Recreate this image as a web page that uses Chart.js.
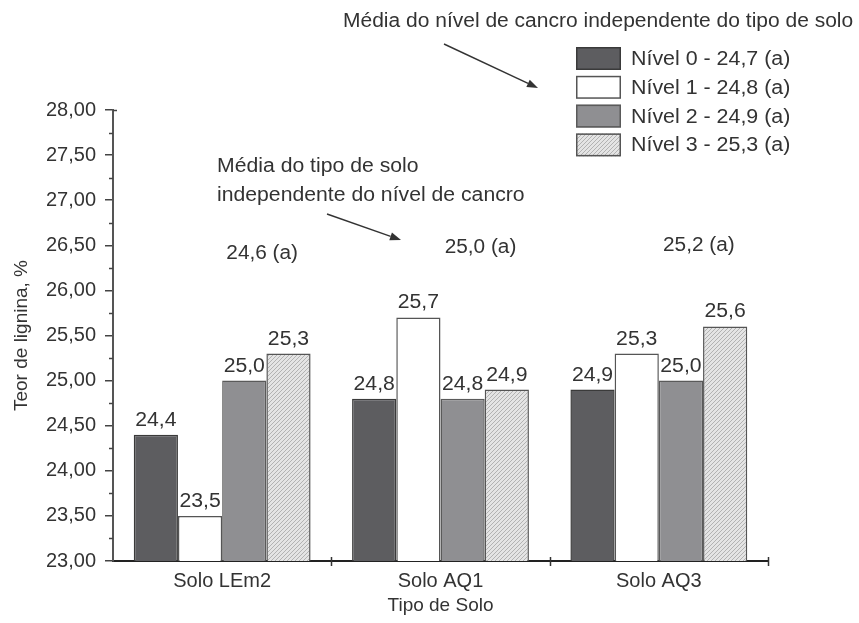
<!DOCTYPE html>
<html>
<head>
<meta charset="utf-8">
<script src="https://cdn.jsdelivr.net/npm/chart.js@4"></script>
<style>
  html, body { margin: 0; padding: 0; background: #ffffff; }
  #wrap { width: 859px; height: 623px; }
</style>
</head>
<body>
<div id="wrap"><canvas id="c" width="859" height="623"></canvas></div>
<script>
// Soil types (categories)
const categories = ['Solo LEm2', 'Solo AQ1', 'Solo AQ3'];

// Lignin content (%) per canker level, one value per soil type
const nivel0 = [24.4, 24.8, 24.9];
const nivel1 = [23.5, 25.7, 25.3];
const nivel2 = [25.0, 24.8, 25.0];
const nivel3 = [25.3, 24.9, 25.6];

// Means per canker level (regardless of soil) and per soil (regardless of level)
const levelNames = ['Nível 0', 'Nível 1', 'Nível 2', 'Nível 3'];
const levelMeans = [24.7, 24.8, 24.9, 25.3];
const soilMeans = [24.6, 25.0, 25.2];
const meanLetter = 'a';

// Y axis range / ticks
const yMin = 23, yMax = 28, yStep = 0.5;

const FONT = '"Liberation Sans", Arial, Helvetica, sans-serif';
const TXT = '#333333';

const fmt = (v, d) => v.toFixed(d).replace('.', ',');

// fine diagonal hatch for the last series
function hatchPattern() {
  const s = 4;
  const cv = document.createElement('canvas');
  cv.width = s; cv.height = s;
  const g = cv.getContext('2d');
  g.fillStyle = '#e4e4e4';
  g.fillRect(0, 0, s, s);
  g.strokeStyle = '#b2b2b2';
  g.lineWidth = 1;
  g.beginPath();
  g.moveTo(0, s); g.lineTo(s, 0);
  g.moveTo(-s / 2, s / 2); g.lineTo(s / 2, -s / 2);
  g.moveTo(s / 2, s * 1.5); g.lineTo(s * 1.5, s / 2);
  g.stroke();
  return g.createPattern(cv, 'repeat');
}
const ctx0 = document.getElementById('c').getContext('2d');
const hatch = hatchPattern();

const seriesValues = [nivel0, nivel1, nivel2, nivel3];
const fills = ['#5d5d60', '#ffffff', '#8f8f92', hatch];
const borders = ['#3a3a3a', '#555555', '#5a5a5a', '#555555'];

const datasets = seriesValues.map((vals, i) => ({
  label: levelNames[i] + ' - ' + fmt(levelMeans[i], 1) + ' (' + meanLetter + ')',
  data: vals,
  backgroundColor: fills[i],
  borderColor: borders[i],
  borderWidth: 1.5,
  barPercentage: 1.0,
  categoryPercentage: 0.81
}));

// text drawn slightly widened horizontally
function wideText(ctx, t, tx, ty, sx, align) {
  ctx.save();
  ctx.translate(tx, ty);
  ctx.scale(sx, 1);
  ctx.textAlign = align || 'left';
  ctx.fillText(t, 0, 0);
  ctx.restore();
}

// value labels above bars, legend, notes and arrows
const decorations = {
  id: 'decorations',
  afterDatasetsDraw(chart) {
    const ctx = chart.ctx;
    ctx.save();
    ctx.fillStyle = TXT;
    ctx.font = '20px ' + FONT;
    ctx.textBaseline = 'alphabetic';
    chart.data.datasets.forEach((ds, di) => {
      const meta = chart.getDatasetMeta(di);
      meta.data.forEach((el, j) => {
        wideText(ctx, fmt(ds.data[j], 1), el.x, el.y - 9, 1.06, 'center');
      });
    });
    ctx.restore();
  },
  afterDraw(chart) {
    const ctx = chart.ctx;
    const area = chart.chartArea;
    const y = chart.scales.y;
    const x = chart.scales.x;
    ctx.save();

    // minor ticks on the y axis
    ctx.strokeStyle = '#444444';
    ctx.lineWidth = 1.5;
    for (let v = yMin + yStep / 2; v < yMax; v += yStep) {
      const py = Math.round(y.getPixelForValue(v)) + 0.5;
      ctx.beginPath();
      ctx.moveTo(area.left - 4, py);
      ctx.lineTo(area.left, py);
      ctx.stroke();
    }
    // small tick inside the top of the y axis
    const pTop = Math.round(y.getPixelForValue(yMax)) + 0.5;
    ctx.beginPath();
    ctx.moveTo(area.left, pTop);
    ctx.lineTo(area.left + 4, pTop);
    ctx.stroke();

    // category separator ticks on the x axis
    ctx.strokeStyle = '#333333';
    const n = categories.length;
    for (let k = 1; k <= n; k++) {
      const px = Math.round(x.getPixelForValue(k - 0.5)) + 0.5;
      ctx.beginPath();
      ctx.moveTo(px, area.bottom - 4);
      ctx.lineTo(px, area.bottom + 5);
      ctx.stroke();
    }

    // legend
    const lx = 576, lw = 45, lh = 23, ly0 = 47, pitch = 28.8;
    chart.data.datasets.forEach((ds, i) => {
      const top = ly0 + i * pitch;
      ctx.fillStyle = ds.backgroundColor;
      ctx.fillRect(lx, top, lw, lh);
      ctx.strokeStyle = ds.borderColor;
      ctx.lineWidth = 1.5;
      ctx.strokeRect(lx + 0.75, top + 0.75, lw - 1.5, lh - 1.5);
      ctx.fillStyle = TXT;
      ctx.font = '20px ' + FONT;
      ctx.textBaseline = 'middle';
      wideText(ctx, ds.label, 631, top + lh / 2 + 1, 1.07, 'left');
    });

    // notes
    ctx.fillStyle = TXT;
    ctx.textBaseline = 'middle';
    ctx.font = '20px ' + FONT;
    wideText(ctx, 'Média do nível de cancro independente do tipo de solo', 343, 21, 1.05, 'left');
    wideText(ctx, 'Média do tipo de solo', 217, 166, 1.06, 'left');
    wideText(ctx, 'independente do nível de cancro', 217, 195, 1.06, 'left');

    // soil means above each group
    soilMeans.forEach((m, k) => {
      const cx = x.getPixelForValue(k);
      const ty = [253, 247, 245][k];
      wideText(ctx, fmt(m, 1) + ' (' + meanLetter + ')', cx + 40, ty, 1.04, 'center');
    });

    // arrows
    const arrow = (x1, y1, x2, y2) => {
      const a = Math.atan2(y2 - y1, x2 - x1);
      const hl = 11, hw = 4;
      const bx = x2 - hl * Math.cos(a), by = y2 - hl * Math.sin(a);
      ctx.strokeStyle = '#333333';
      ctx.lineWidth = 1.4;
      ctx.beginPath();
      ctx.moveTo(x1, y1);
      ctx.lineTo(bx, by);
      ctx.stroke();
      ctx.fillStyle = '#333333';
      ctx.beginPath();
      ctx.moveTo(x2, y2);
      ctx.lineTo(bx + hw * Math.sin(a), by - hw * Math.cos(a));
      ctx.lineTo(bx - hw * Math.sin(a), by + hw * Math.cos(a));
      ctx.closePath();
      ctx.fill();
    };
    arrow(444, 44, 538, 88);
    arrow(327, 214, 401, 240);

    ctx.restore();
  }
};

new Chart(ctx0, {
  type: 'bar',
  data: { labels: categories, datasets },
  options: {
    responsive: false,
    animation: false,
    devicePixelRatio: 1,
    layout: { padding: { top: 110, right: 91, left: 0, bottom: 0 } },
    plugins: { legend: { display: false }, tooltip: { enabled: false } },
    scales: {
      x: {
        grid: { display: false, drawTicks: false },
        border: { display: true, color: '#222222', width: 2 },
        ticks: { color: TXT, font: { family: FONT, size: 20 }, padding: 8 },
        title: { display: true, text: 'Tipo de Solo', color: TXT,
                 font: { family: FONT, size: 19 }, padding: { top: 0, bottom: 6 } },
        afterFit(s) { s.height = 62; }
      },
      y: {
        min: yMin, max: yMax,
        grid: { display: true, drawOnChartArea: false, drawTicks: true,
                tickLength: 8, color: '#444444', lineWidth: 1.5 },
        border: { display: true, color: '#555555', width: 2 },
        ticks: { stepSize: yStep, color: TXT, padding: 9,
                 font: { family: FONT, size: 20 },
                 callback: v => fmt(v, 2) },
        title: { display: true, text: 'Teor de lignina, %', color: TXT,
                 font: { family: FONT, size: 19 }, padding: { top: 10, bottom: 0 } },
        afterFit(s) { s.width = 113; }
      }
    }
  },
  plugins: [decorations]
});
</script>
</body>
</html>
